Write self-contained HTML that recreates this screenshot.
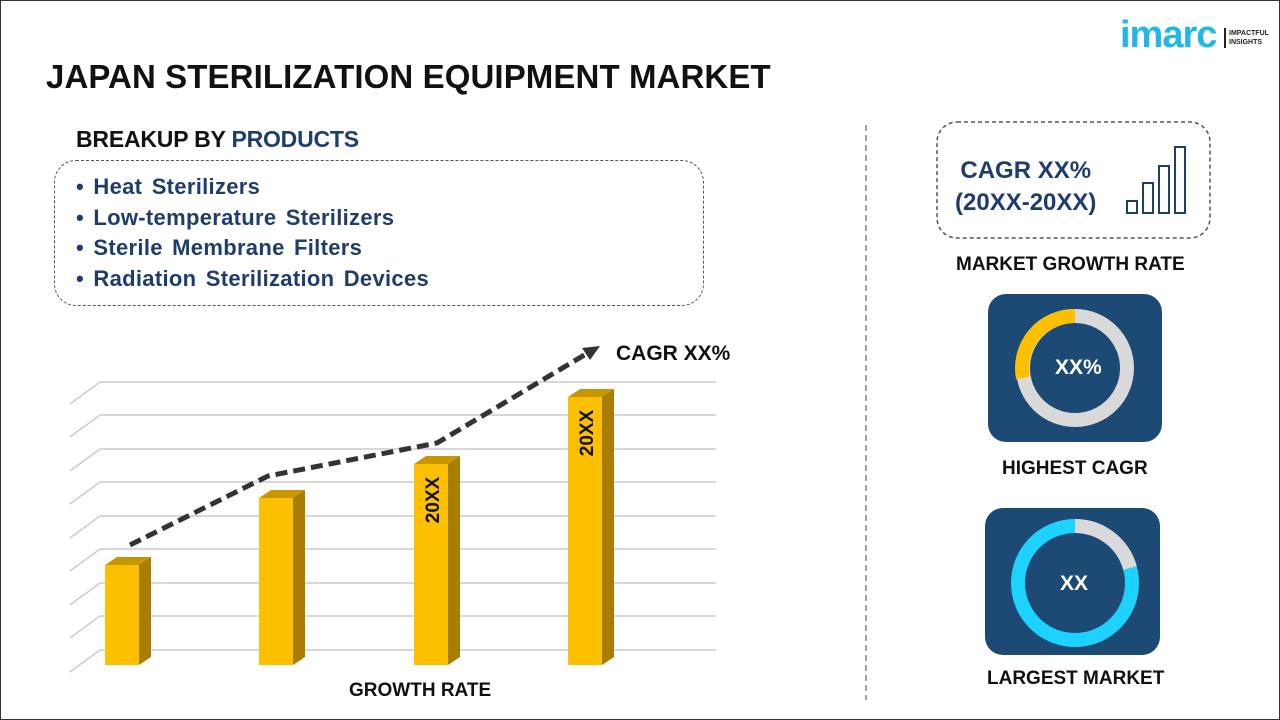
<!DOCTYPE html>
<html><head><meta charset="utf-8"><style>
body{margin:0;width:1280px;height:720px;overflow:hidden;background:#fff;font-family:"Liberation Sans",sans-serif;}
.frame{position:absolute;left:0;top:0;width:1278px;height:718px;border:1px solid #333;}
.t{position:absolute;font-weight:bold;white-space:nowrap;}
</style></head><body>
<div class="frame"></div>
<div class="t" style="left:46px;top:58px;font-size:33px;color:#111;letter-spacing:0.1px">JAPAN STERILIZATION EQUIPMENT MARKET</div>
<div class="t" style="left:1120px;top:14px;font-size:38px;color:#1fb8e8;letter-spacing:-1px">imarc</div>
<div style="position:absolute;left:1224px;top:28px;width:2px;height:20px;background:#222"></div>
<div class="t" style="left:1229px;top:29px;font-size:7px;line-height:9px;color:#222">IMPACTFUL<br>INSIGHTS</div>
<div class="t" style="left:76px;top:126px;font-size:23px;color:#111;letter-spacing:-0.2px">BREAKUP BY <span style="color:#1f3d6b">PRODUCTS</span></div>
<div style="position:absolute;left:54px;top:160px;width:648px;height:144px;border:1.5px dashed #555;border-radius:22px"></div>
<div class="t" style="left:76px;top:172px;font-size:22px;line-height:30.5px;color:#1f3d6b;letter-spacing:0.3px;word-spacing:3px">• Heat Sterilizers<br>• Low-temperature Sterilizers<br>• Sterile Membrane Filters<br>• Radiation Sterilization Devices</div>
<svg style="position:absolute;left:0;top:0" width="1280" height="720">
<g stroke="#ccc" stroke-width="1.5">
<line x1="100" y1="382" x2="716" y2="382"/><line x1="100" y1="415" x2="716" y2="415"/><line x1="100" y1="449" x2="716" y2="449"/><line x1="100" y1="482" x2="716" y2="482"/><line x1="100" y1="516" x2="716" y2="516"/><line x1="100" y1="549" x2="716" y2="549"/><line x1="100" y1="583" x2="716" y2="583"/><line x1="100" y1="616" x2="716" y2="616"/><line x1="100" y1="650" x2="716" y2="650"/>
<line x1="100" y1="382" x2="70" y2="404"/><line x1="100" y1="415" x2="70" y2="437"/><line x1="100" y1="449" x2="70" y2="471"/><line x1="100" y1="482" x2="70" y2="504"/><line x1="100" y1="516" x2="70" y2="538"/><line x1="100" y1="549" x2="70" y2="571"/><line x1="100" y1="583" x2="70" y2="605"/><line x1="100" y1="616" x2="70" y2="638"/><line x1="100" y1="650" x2="70" y2="672"/>
</g>
<g>
<polygon points="105,565 117,557 151,557 139,565" fill="#c89600"/><rect x="105" y="565" width="34" height="100" fill="#fcc000"/><polygon points="139,565 151,557 151,657 139,665" fill="#a87d00"/>
<polygon points="259,498 271,490 305,490 293,498" fill="#c89600"/><rect x="259" y="498" width="34" height="167" fill="#fcc000"/><polygon points="293,498 305,490 305,657 293,665" fill="#a87d00"/>
<polygon points="414,464 426,456 460,456 448,464" fill="#c89600"/><rect x="414" y="464" width="34" height="201" fill="#fcc000"/><polygon points="448,464 460,456 460,657 448,665" fill="#a87d00"/>
<polygon points="568,397 580,389 614,389 602,397" fill="#c89600"/><rect x="568" y="397" width="34" height="268" fill="#fcc000"/><polygon points="602,397 614,389 614,657 602,665" fill="#a87d00"/>
</g>
<polyline points="130,545 268,476 437,443 586,354" fill="none" stroke="#333" stroke-width="5" stroke-dasharray="12,6"/>
<polygon points="600,346 582,348 590,360" fill="#333"/>
<text x="439" y="500" transform="rotate(-90 439 500)" text-anchor="middle" font-family="Liberation Sans" font-weight="bold" font-size="19" fill="#111">20XX</text>
<text x="593" y="433" transform="rotate(-90 593 433)" text-anchor="middle" font-family="Liberation Sans" font-weight="bold" font-size="19" fill="#111">20XX</text>
<line x1="866" y1="125" x2="866" y2="700" stroke="#666" stroke-width="1.2" stroke-dasharray="6,4"/>
<rect x="937" y="122" width="273" height="116" rx="20" fill="none" stroke="#555" stroke-width="1.5" stroke-dasharray="4,3"/>
<g fill="none" stroke="#1f3d6b" stroke-width="2"><rect x="1127" y="201" width="10" height="12"/><rect x="1143" y="183" width="10" height="30"/><rect x="1159" y="166" width="10" height="47"/><rect x="1175" y="147" width="10" height="66"/></g>
<rect x="988" y="294" width="174" height="148" rx="18" fill="#1d4a75"/>
<circle cx="1075" cy="368" r="52" fill="none" stroke="#d9d9d9" stroke-width="14"/>
<path d="M1075,316 A52,52 0 0 0 1023,378" fill="none" stroke="#fcc000" stroke-width="14"/>
<rect x="985" y="508" width="175" height="147" rx="18" fill="#1d4a75"/>
<circle cx="1075" cy="583" r="57" fill="none" stroke="#1ed2ff" stroke-width="14"/>
<path d="M1075,526 A57,57 0 0 1 1130,568" fill="none" stroke="#d9d9d9" stroke-width="14"/>
</svg>
<div class="t" style="left:616px;top:342px;font-size:21px;color:#111">CAGR XX%</div>
<div class="t" style="left:349px;top:680px;font-size:19px;color:#111">GROWTH RATE</div>
<div class="t" style="left:955px;top:155px;font-size:24px;line-height:32px;color:#1f3d6b;text-align:center">CAGR XX%<br>(20XX-20XX)</div>
<div class="t" style="left:956px;top:254px;font-size:19px;color:#111">MARKET GROWTH RATE</div>
<div class="t" style="left:1055px;top:356px;font-size:21px;color:#fff">XX%</div>
<div class="t" style="left:1002px;top:458px;font-size:19px;color:#111">HIGHEST CAGR</div>
<div class="t" style="left:1060px;top:572px;font-size:21px;color:#fff">XX</div>
<div class="t" style="left:987px;top:668px;font-size:19px;color:#111">LARGEST MARKET</div>
</body></html>
